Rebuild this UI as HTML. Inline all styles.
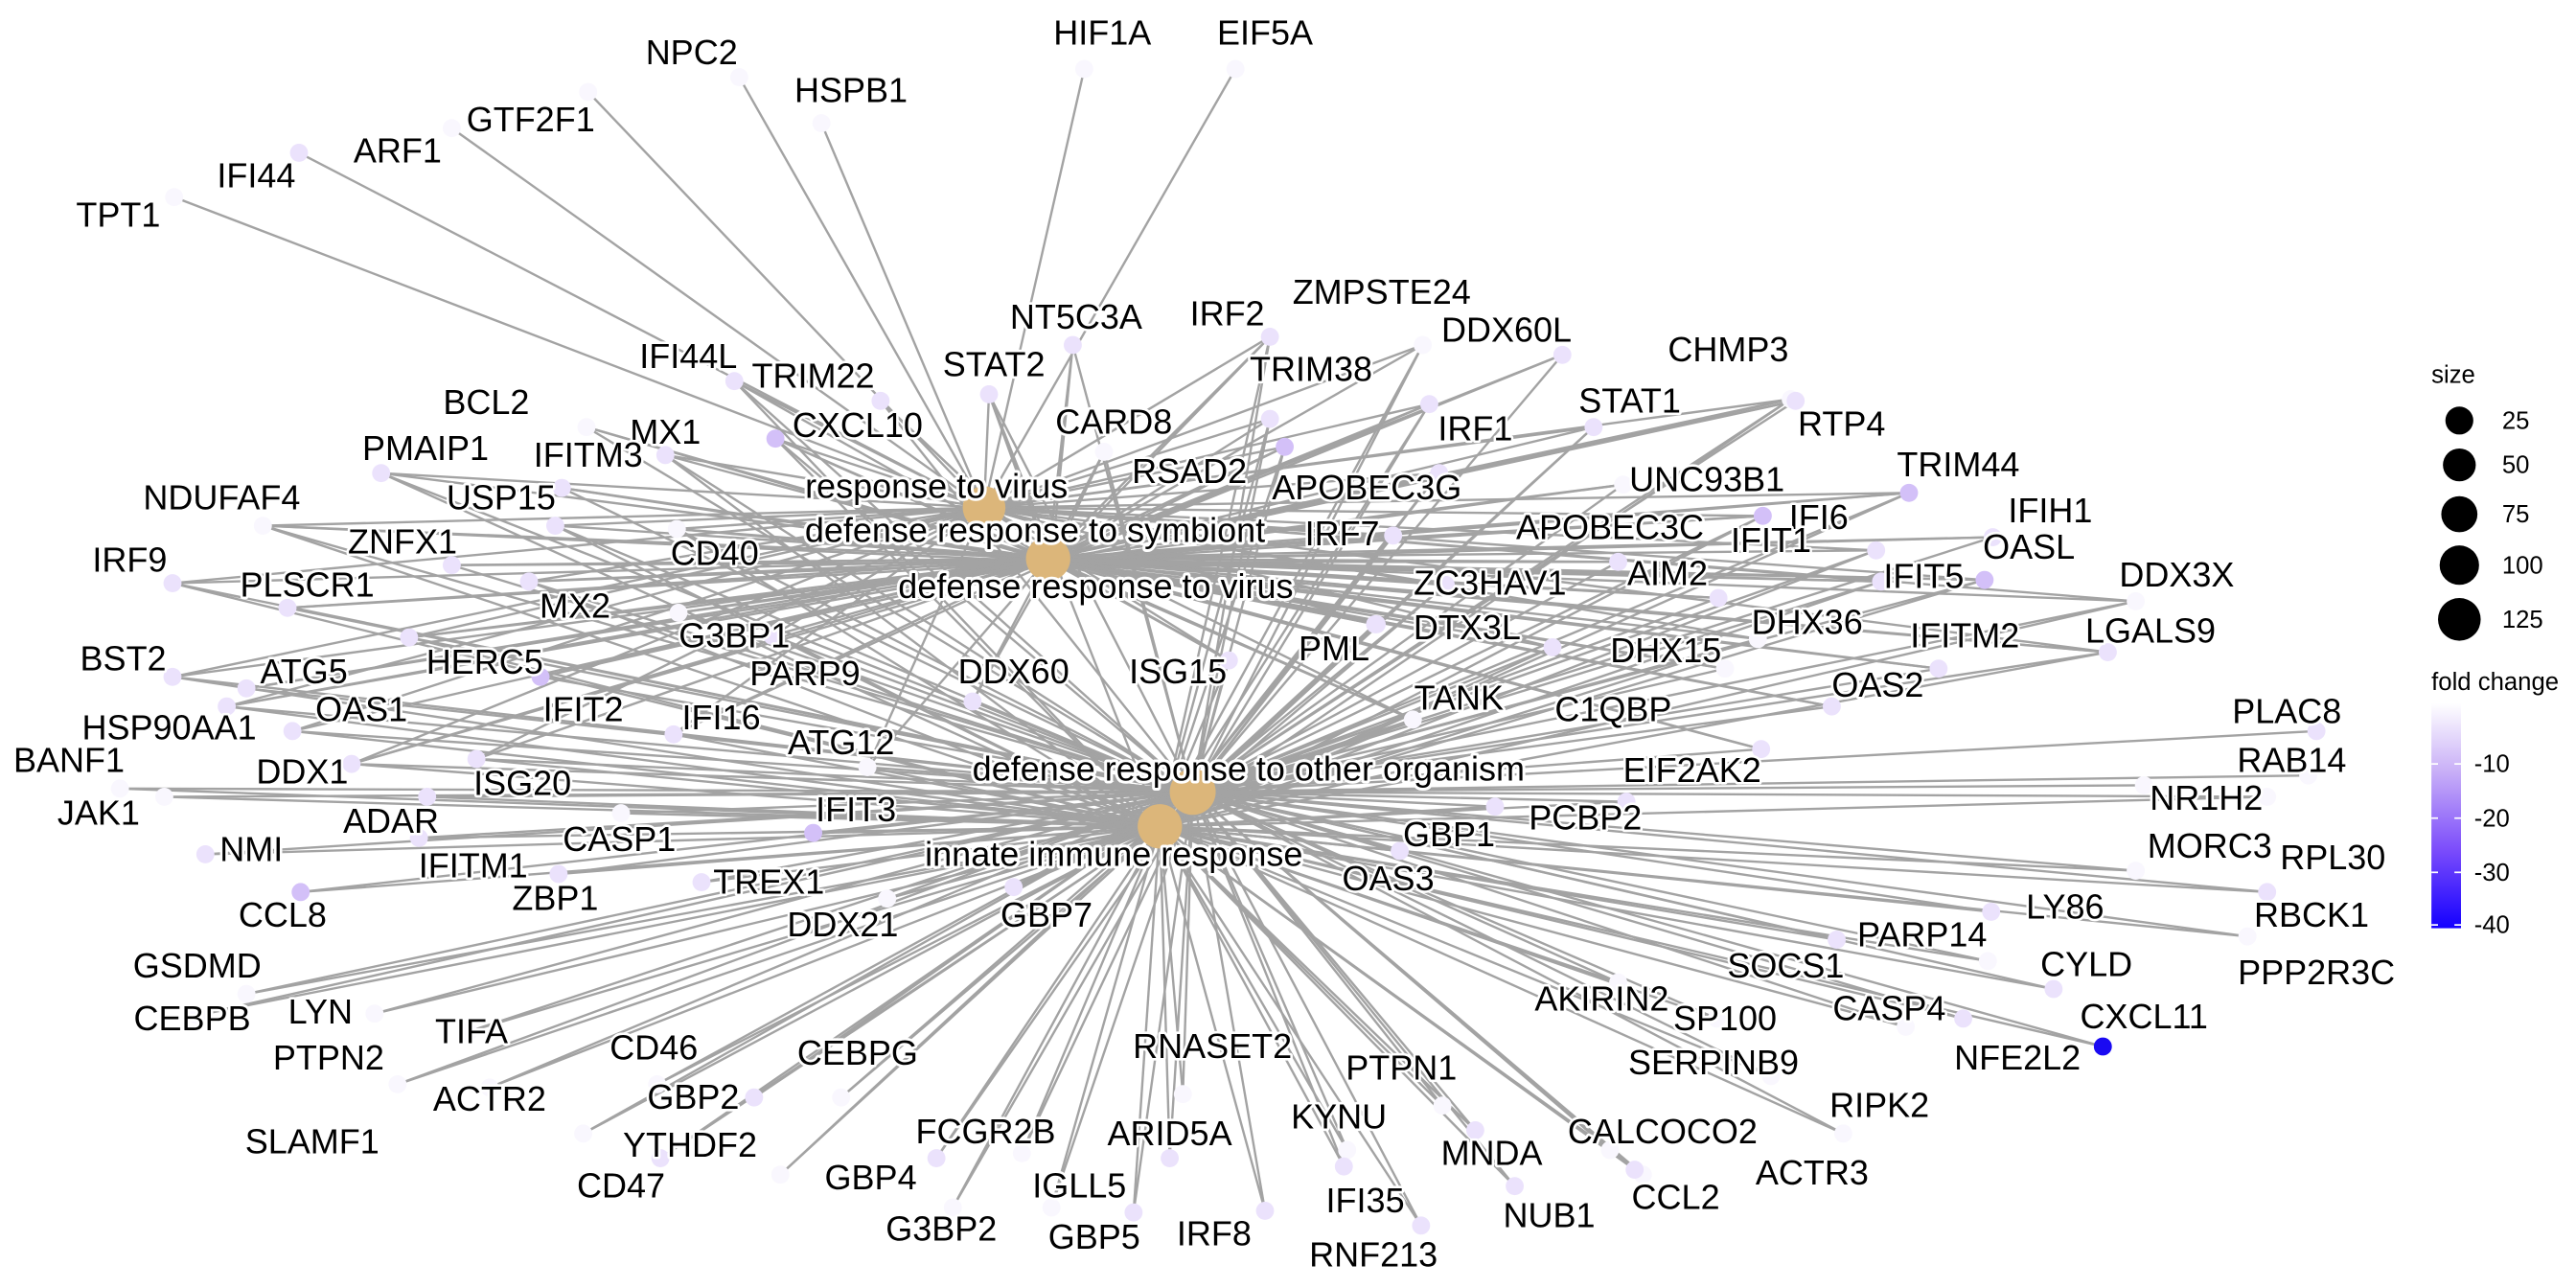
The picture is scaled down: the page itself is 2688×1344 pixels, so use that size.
<!DOCTYPE html>
<html><head><meta charset="utf-8"><style>
html,body{margin:0;padding:0;background:#fff;}
svg{display:block;}
text{font-family:"Liberation Sans",sans-serif;}
.g{font-size:21px;fill:#000;stroke:#fff;stroke-width:3px;paint-order:stroke;stroke-linejoin:round;}
.h{font-size:21px;fill:#000;stroke:#fff;stroke-width:3.5px;paint-order:stroke;stroke-linejoin:round;}
.l{font-size:15px;fill:#000;}
</style></head><body>
<svg id="s" width="2688" height="1344" viewBox="0 0 1568 784" xmlns="http://www.w3.org/2000/svg">
<defs><linearGradient id="fc" x1="0" y1="0" x2="0" y2="1"><stop offset="0" stop-color="#ffffff"/><stop offset="0.3" stop-color="#c9b0f7"/><stop offset="0.65" stop-color="#7c4dfb"/><stop offset="1" stop-color="#1400ff"/></linearGradient></defs>
<g id="edges" stroke="#a3a3a3" stroke-width="1.4" fill="none"></g>
<g id="nodes"></g>
<g id="labels"></g>
<g id="legend">
<text class="l" x="1480" y="233">size</text>
<circle cx="1497" cy="256" r="8.5" fill="#000"/><text class="l" x="1523" y="261">25</text>
<circle cx="1497" cy="283" r="10" fill="#000"/><text class="l" x="1523" y="288">50</text>
<circle cx="1497" cy="313" r="11" fill="#000"/><text class="l" x="1523" y="318">75</text>
<circle cx="1497" cy="344" r="12" fill="#000"/><text class="l" x="1523" y="349">100</text>
<circle cx="1497" cy="377" r="13" fill="#000"/><text class="l" x="1523" y="382">125</text>
<text class="l" x="1480" y="420">fold change</text>
<rect x="1480" y="428" width="18" height="137" fill="url(#fc)"/>
<g stroke="#fff" stroke-width="1"><line x1="1480" y1="465" x2="1484" y2="465"/><line x1="1494" y1="465" x2="1498" y2="465"/><line x1="1480" y1="498" x2="1484" y2="498"/><line x1="1494" y1="498" x2="1498" y2="498"/><line x1="1480" y1="531" x2="1484" y2="531"/><line x1="1494" y1="531" x2="1498" y2="531"/><line x1="1480" y1="563" x2="1484" y2="563"/><line x1="1494" y1="563" x2="1498" y2="563"/></g>
<text class="l" x="1506" y="470">-10</text><text class="l" x="1506" y="503">-20</text><text class="l" x="1506" y="536">-30</text><text class="l" x="1506" y="568">-40</text>
</g>
</svg>
<script>
var H=[[599,309],[638,340],[640,342],[726,482],[706,503]];
var G=[
["HIF1A",671,20,660,42,"w"],["EIF5A",770,20,752,42,"w"],["NPC2",421,32,450,47,"w"],["HSPB1",518,55,500,75,"w"],
["GTF2F1",323,73,358,56,"w"],["ARF1",242,92,275,78,"w"],["IFI44",156,107,182,93,"p"],["TPT1",72,131,106,120,"w"],
["NT5C3A",655,193,653,210,"p"],["IRF2",747,191,773,205,"p"],["ZMPSTE24",841,178,866,210,"w"],["DDX60L",917,201,951,216,"p"],
["CHMP3",1052,213,1090,243,"w"],["IFI44L",419,217,447,232,"p"],["TRIM22",495,229,536,244,"p"],["STAT2",605,222,602,240,"p"],
["TRIM38",798,225,773,255,"p"],["BCL2",296,245,357,260,"w"],["CXCL10",522,259,472,267,"m"],["MX1",405,263,405,277,"p"],
["CARD8",678,257,672,275,"w"],["IRF1",898,261,870,246,"p"],["STAT1",992,244,970,260,"p"],["RTP4",1121,258,1093,244,"p"],
["TRIM44",1192,283,1162,300,"m"],["PMAIP1",259,273,232,288,"p"],["IFITM3",358,277,342,297,"p"],["RSAD2",724,287,782,272,"m"],
["APOBEC3G",832,297,876,288,"p"],["UNC93B1",1039,292,988,295,"w"],["NDUFAF4",135,303,160,320,"w"],["USP15",305,303,338,320,"p"],
["ZNFX1",245,330,275,344,"p"],["CD40",435,337,412,322,"w"],["IRF7",817,325,848,326,"p"],["APOBEC3C",980,321,985,342,"p"],
["IFI6",1107,315,1073,314,"m"],["IFIT1",1078,329,1142,335,"p"],["IFIH1",1248,311,1213,327,"p"],["OASL",1235,333,1208,353,"m"],
["IRF9",79,341,105,355,"p"],["PLSCR1",187,356,175,370,"p"],["MX2",350,369,322,354,"p"],["ZC3HAV1",907,355,880,356,"p"],
["AIM2",1015,349,1046,364,"p"],["IFIT5",1171,351,1145,354,"p"],["DDX3X",1325,350,1300,366,"w"],["G3BP1",447,387,413,373,"w"],
["DTX3L",893,382,838,380,"p"],["DHX36",1100,379,1070,389,"w"],["IFITM2",1196,387,1180,407,"p"],["LGALS9",1309,384,1283,397,"p"],
["BST2",75,401,105,412,"p"],["ATG5",185,409,150,419,"p"],["HERC5",295,403,249,388,"p"],["PARP9",490,410,470,387,"p"],
["DDX60",617,409,592,427,"p"],["ISG15",717,409,748,402,"p"],["PML",812,395,837,380,"p"],["DHX15",1014,396,1050,407,"w"],
["HSP90AA1",103,443,138,430,"p"],["OAS1",220,432,178,445,"p"],["IFIT2",355,432,329,412,"m"],["TANK",888,425,860,438,"w"],
["C1QBP",982,432,945,394,"p"],["OAS2",1143,417,1115,430,"p"],["IFI16",439,437,410,447,"p"],["ATG12",512,452,528,467,"w"],
["BANF1",42,463,73,480,"w"],["DDX1",184,470,214,465,"p"],["ISG20",318,477,290,462,"p"],["EIF2AK2",1030,469,1072,456,"p"],
["PLAC8",1392,433,1410,445,"p"],["RAB14",1395,463,1405,472,"w"],["JAK1",60,495,100,485,"w"],["ADAR",238,500,260,485,"p"],
["CASP1",377,511,378,495,"w"],["IFIT3",521,493,495,507,"m"],["GBP1",882,508,910,491,"p"],["PCBP2",965,498,990,488,"p"],
["NR1H2",1343,486,1305,478,"w"],["NMI",153,517,125,520,"p"],["IFITM1",288,527,255,510,"p"],["CCL8",172,557,183,543,"m"],
["ZBP1",338,547,340,532,"p"],["TREX1",468,537,427,537,"p"],["OAS3",845,535,852,518,"p"],["MORC3",1345,515,1300,530,"w"],
["RPL30",1420,522,1380,485,"w"],["RBCK1",1407,557,1380,543,"p"],["DDX21",513,563,540,547,"w"],["GBP7",637,557,617,540,"p"],
["LY86",1257,552,1212,555,"p"],["PARP14",1170,569,1210,585,"w"],["GSDMD",120,588,150,605,"w"],["CYLD",1270,587,1250,602,"p"],
["PPP2R3C",1410,592,1368,570,"w"],["SOCS1",1087,588,1118,572,"p"],["CEBPB",117,620,120,618,"w"],["LYN",195,616,228,617,"w"],
["CASP4",1150,614,1160,625,"w"],["CXCL11",1305,619,1280,637,"b"],["TIFA",287,628,285,628,"w"],["AKIRIN2",975,608,985,598,"w"],
["SP100",1050,620,1045,620,"w"],["PTPN2",200,644,242,660,"w"],["CD46",398,638,400,660,"w"],["CEBPG",522,641,512,668,"w"],
["RNASET2",738,637,720,666,"w"],["SERPINB9",1043,647,1078,655,"w"],["NFE2L2",1228,644,1195,620,"p"],["PTPN1",853,650,878,673,"w"],
["ACTR2",298,669,298,662,"w"],["GBP2",422,668,459,668,"p"],["SLAMF1",190,695,355,690,"w"],["RIPK2",1144,673,1122,690,"w"],
["FCGR2B",600,689,622,702,"w"],["KYNU",815,680,820,700,"w"],["CALCOCO2",1012,689,980,700,"w"],["MNDA",908,702,898,688,"p"],
["YTHDF2",420,697,475,715,"w"],["ACTR3",1103,714,1000,715,"w"],["CD47",378,722,402,705,"p"],["GBP4",530,717,570,705,"p"],
["ARID5A",712,690,712,705,"p"],["IGLL5",657,722,640,735,"w"],["IFI35",831,731,818,710,"p"],["NUB1",943,740,922,722,"p"],
["CCL2",1020,729,995,712,"p"],["G3BP2",573,748,580,735,"w"],["GBP5",666,753,690,738,"p"],["IRF8",739,751,770,737,"p"],
["RNF213",836,764,865,746,"p"]
];
var col={w:"#f9f7fe",p:"#ebe2fc",m:"#d3c0f8",b:"#1a0af2"};
var NS="http://www.w3.org/2000/svg",E=document.getElementById("edges"),N=document.getElementById("nodes"),L=document.getElementById("labels");
function mk(t,a,p){var e=document.createElementNS(NS,t);for(var k in a)e.setAttribute(k,a[k]);p.appendChild(e);return e;}
G.forEach(function(g,i){
 var x=g[3],y=g[4],hs;
 if(y<130) hs=[0];
 else if(g[0]=="PLAC8"||g[0]=="RAB14"||g[0]=="NR1H2") hs=[3];
 else if(y<480) hs=(i%3==0)?[0,1,2,3,4]:(i%3==1?[0,1,3,4]:[1,2,3]);
 else hs=(i%2)?[3,4]:[4,3];
 hs.forEach(function(h){mk("line",{x1:H[h][0],y1:H[h][1],x2:x,y2:y},E);});
});
G.forEach(function(g){mk("circle",{cx:g[3],cy:g[4],r:5.5,fill:col[g[5]]},N);});
[[599,309,13],[638,340,13.5],[726,482,14],[706,503,13.5]].forEach(function(h){mk("circle",{cx:h[0],cy:h[1],r:h[2],fill:"#dcb67a"},N);});
G.forEach(function(g){var t=mk("text",{"class":"g",x:g[1],y:g[2]+7,"text-anchor":"middle"},L);t.textContent=g[0];});
[["response to virus",570,303],["defense response to symbiont",630,330],["defense response to virus",667,364],["defense response to other organism",760,475],["innate immune response",678,527]].forEach(function(h){var t=mk("text",{"class":"h",x:h[1],y:h[2],"text-anchor":"middle"},L);t.textContent=h[0];});
</script>
</body></html>
